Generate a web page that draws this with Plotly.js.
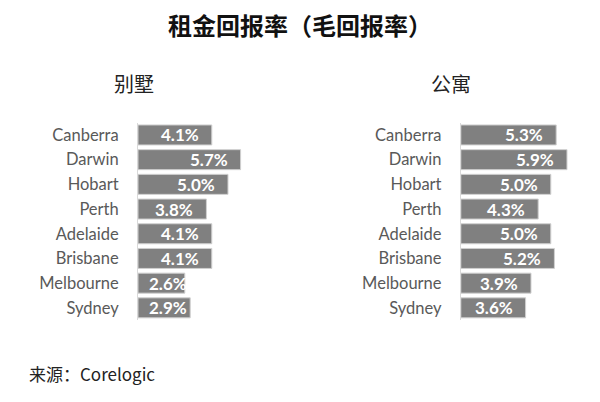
<!DOCTYPE html>
<html><head><meta charset="utf-8">
<script src="https://cdn.plot.ly/plotly-3.0.1.min.js"></script>
<style>html,body{margin:0;padding:0;background:#fff}#c{width:600px;height:402px}</style>
</head><body><div id="c"></div>
<script>
const cities = ["Canberra","Darwin","Hobart","Perth","Adelaide","Brisbane","Melbourne","Sydney"];
const houseYield = [4.1,5.7,5.0,3.8,4.1,4.1,2.6,2.9];
const unitYield = [5.3,5.9,5.0,4.3,5.0,5.2,3.9,3.6];
const titleText = "租金回报率（毛回报率）";
const leftTitle = "别墅";
const rightTitle = "公寓";
const sourceText = "来源：Corelogic";

const FONT = "Lato, 'Noto Sans CJK SC', sans-serif";
const XMAX = 6.5, AXIS_PX = 117, PX_PER = AXIS_PX / XMAX;
const barStyle = {
  type: 'bar', orientation: 'h',
  marker: {color: '#808080', line: {color: '#d0d0d0', width: 1}},
  hoverinfo: 'skip', cliponaxis: false
};
const data = [
  Object.assign({}, barStyle, {x: houseYield, y: cities, xaxis: 'x', yaxis: 'y'}),
  Object.assign({}, barStyle, {x: unitYield, y: cities, xaxis: 'x2', yaxis: 'y2'})
];
function labels(vals, xr, yr) {
  return vals.map((v, i) => {
    const short = v * PX_PER < 62;
    return {
      text: v.toFixed(1) + '%', xref: xr, yref: yr, y: cities[i],
      x: short ? 0 : v, xanchor: short ? 'left' : 'right', xshift: short ? 9 : -11,
      yanchor: 'middle', showarrow: false,
      font: {family: FONT, size: 17, color: '#ffffff', weight: 'bold'}
    };
  });
}
const yBase = {
  type: 'category', categoryorder: 'array', categoryarray: cities,
  range: [7.5, -0.5], domain: [0.2035, 0.695],
  showline: true, linecolor: '#d9d9d9', linewidth: 1,
  showgrid: false, zeroline: false, ticks: '', ticklabelstandoff: 15,
  tickfont: {family: FONT, size: 16.5, color: '#595959'}, fixedrange: true
};
const xBase = {range: [0, XMAX], visible: false, fixedrange: true};
const layout = {
  width: 600, height: 402,
  margin: {l: 0, r: 0, t: 0, b: 0},
  paper_bgcolor: '#fff', plot_bgcolor: 'rgba(0,0,0,0)',
  showlegend: false, bargap: 0.19,
  title: {text: '<b>' + titleText + '</b>', x: 0.5, xanchor: 'center', y: 1 - 27/402, yanchor: 'middle',
          font: {family: "'Noto Sans CJK SC', sans-serif", size: 24, color: '#111'}},
  xaxis: Object.assign({}, xBase, {domain: [0.23, 0.23 + AXIS_PX/600], anchor: 'y'}),
  xaxis2: Object.assign({}, xBase, {domain: [0.768, 0.768 + AXIS_PX/600], anchor: 'y2'}),
  yaxis: Object.assign({}, yBase, {anchor: 'x'}),
  yaxis2: Object.assign({}, yBase, {anchor: 'x2'}),
  annotations: [
    {text: leftTitle, xref: 'paper', yref: 'paper', x: 134/600, y: 1 - 84/402, xanchor: 'center', yanchor: 'middle', showarrow: false,
     font: {family: "'Noto Sans CJK SC', sans-serif", size: 20, color: '#222'}},
    {text: rightTitle, xref: 'paper', yref: 'paper', x: 451/600, y: 1 - 84/402, xanchor: 'center', yanchor: 'middle', showarrow: false,
     font: {family: "'Noto Sans CJK SC', sans-serif", size: 20, color: '#222'}},
    {text: sourceText, xref: 'paper', yref: 'paper', x: 27/600, y: 1 - 373/402, xanchor: 'left', yanchor: 'middle', showarrow: false,
     font: {family: "'Noto Sans CJK SC', sans-serif", size: 17, color: '#222'}}
  ].concat(labels(houseYield, 'x', 'y'), labels(unitYield, 'x2', 'y2'))
};
Plotly.newPlot('c', data, layout, {displayModeBar: false, staticPlot: true});
</script></body></html>
